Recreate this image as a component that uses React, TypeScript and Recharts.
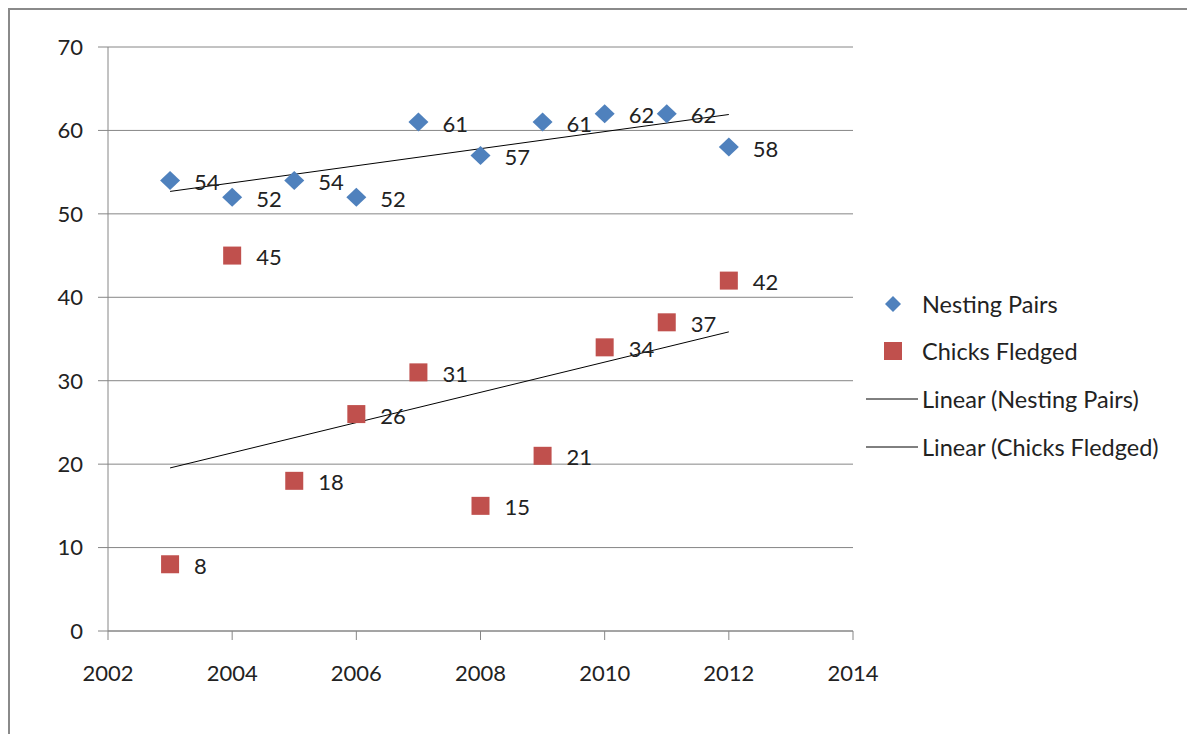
import React from 'react';
import { ScatterChart, Scatter, XAxis, YAxis, CartesianGrid, Legend, LabelList } from 'recharts';

const years = [2003, 2004, 2005, 2006, 2007, 2008, 2009, 2010, 2011, 2012];
const nestingPairs = [54, 52, 54, 52, 61, 57, 61, 62, 62, 58];
const chicksFledged = [8, 45, 18, 26, 31, 15, 21, 34, 37, 42];
const xTicks = [2002, 2004, 2006, 2008, 2010, 2012, 2014];
const yTicks = [0, 10, 20, 30, 40, 50, 60, 70];

const BLUE = '#4F81BD';
const RED = '#C0504D';
const GRID = '#868686';
const TEXT = '#222222';
const FONT = 'Lato, "Open Sans", sans-serif';

const nestingData = years.map((x, i) => ({ x, y: nestingPairs[i] }));
const chicksData = years.map((x, i) => ({ x, y: chicksFledged[i] }));

// Least-squares trendline (as Excel's "Linear" trendline) over the first..last year
function linearTrend(xs: number[], ys: number[]) {
  const n = xs.length;
  const mx = xs.reduce((a, b) => a + b, 0) / n;
  const my = ys.reduce((a, b) => a + b, 0) / n;
  let sxy = 0;
  let sxx = 0;
  for (let i = 0; i < n; i++) {
    sxy += (xs[i] - mx) * (ys[i] - my);
    sxx += (xs[i] - mx) * (xs[i] - mx);
  }
  const b = sxy / sxx;
  const a = my - b * mx;
  return [xs[0], xs[n - 1]].map((x) => ({ x, y: a + b * x }));
}

const nestingTrend = linearTrend(years, nestingPairs);
const chicksTrend = linearTrend(years, chicksFledged);

const Diamond = (props: any) => {
  const { cx, cy } = props;
  return <path d={`M${cx},${cy - 9.5}L${cx + 10},${cy}L${cx},${cy + 9.5}L${cx - 10},${cy}Z`} fill={BLUE} />;
};

const Square = (props: any) => {
  const { cx, cy } = props;
  return <rect x={cx - 9} y={cy - 9} width={18} height={18} fill={RED} />;
};

const NoShape = () => <g />;

const renderLabel = (props: any) => {
  const { x, y, width, height, value } = props;
  const cx = x + (width || 0) / 2;
  const cy = y + (height || 0) / 2;
  return (
    <text x={cx + 24} y={cy + 1} dominantBaseline="central" fill={TEXT} fontSize={22} fontFamily={FONT}>
      {value}
    </text>
  );
};

const legendItems = [
  { label: 'Nesting Pairs', kind: 'diamond' },
  { label: 'Chicks Fledged', kind: 'square' },
  { label: 'Linear (Nesting Pairs)', kind: 'line' },
  { label: 'Linear (Chicks Fledged)', kind: 'line' },
];

const LegendContent = () => (
  <div style={{ fontFamily: FONT, fontSize: 23.5, color: TEXT }}>
    {legendItems.map((it) => (
      <div key={it.label} style={{ height: 47.6, display: 'flex', alignItems: 'center' }}>
        <svg width={56} height={24} style={{ flex: 'none' }}>
          {it.kind === 'diamond' && <path d="M27,4L35,12L27,20L19,12Z" fill={BLUE} />}
          {it.kind === 'square' && <rect x={18} y={3} width={18} height={18} fill={RED} />}
          {it.kind === 'line' && <line x1={0} y1={12} x2={52} y2={12} stroke="#000" strokeWidth={1} />}
        </svg>
        <span style={{ whiteSpace: 'nowrap' }}>{it.label}</span>
      </div>
    ))}
  </div>
);

export default function App() {
  return (
    <div
      style={{
        width: 1190,
        height: 730,
        borderTop: '2px solid #8a8a8a',
        borderLeft: '2px solid #8a8a8a',
        background: '#fff',
      }}
    >
      <ScatterChart width={1180} height={720} margin={{ top: 37, right: 27, bottom: 39, left: 38 }}>
        <CartesianGrid vertical={false} stroke={GRID} strokeWidth={1} />
        <XAxis
          type="number"
          dataKey="x"
          domain={[2002, 2014]}
          ticks={xTicks}
          allowDecimals={false}
          height={60}
          tickSize={9}
          tickMargin={25}
          axisLine={{ stroke: GRID }}
          tickLine={{ stroke: GRID }}
          tick={{ fill: TEXT, fontSize: 22, fontFamily: FONT }}
        />
        <YAxis
          type="number"
          dataKey="y"
          domain={[0, 70]}
          ticks={yTicks}
          width={60}
          tickSize={10}
          tickMargin={15}
          axisLine={{ stroke: GRID }}
          tickLine={{ stroke: GRID }}
          tick={{ fill: TEXT, fontSize: 22, fontFamily: FONT }}
        />
        <Scatter name="Linear (Nesting Pairs)" data={nestingTrend} line={{ stroke: '#000', strokeWidth: 1 }} shape={NoShape} legendType="none" isAnimationActive={false} />
        <Scatter name="Linear (Chicks Fledged)" data={chicksTrend} line={{ stroke: '#000', strokeWidth: 1 }} shape={NoShape} legendType="none" isAnimationActive={false} />
        <Scatter name="Nesting Pairs" data={nestingData} shape={Diamond} isAnimationActive={false}>
          <LabelList dataKey="y" content={renderLabel} />
        </Scatter>
        <Scatter name="Chicks Fledged" data={chicksData} shape={Square} isAnimationActive={false}>
          <LabelList dataKey="y" content={renderLabel} />
        </Scatter>
        <Legend
          layout="vertical"
          align="right"
          verticalAlign="middle"
          content={LegendContent}
          wrapperStyle={{ left: 856, top: 270, width: 310 }}
        />
      </ScatterChart>
    </div>
  );
}
